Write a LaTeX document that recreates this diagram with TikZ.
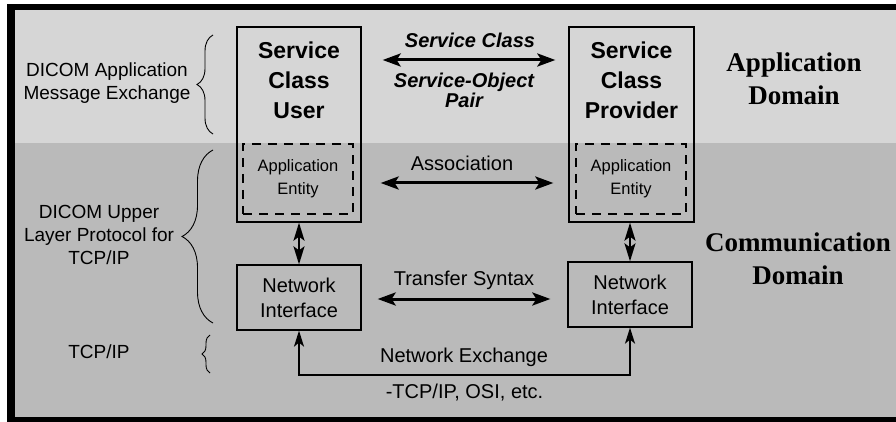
\documentclass[tikz,border=0pt]{standalone}
\usepackage{fontspec}
\setmainfont{Liberation Serif}
\setsansfont{Liberation Sans}
\usetikzlibrary{arrows.meta,decorations.pathreplacing,calc}

\definecolor{appband}{RGB}{214,214,214}
\definecolor{comband}{RGB}{186,186,186}

\tikzset{
  box/.style={draw, line width=1.3pt, inner sep=0pt},
  aebox/.style={draw, dashed, dash pattern=on 9pt off 7pt, line width=1.3pt, inner sep=0pt,
    minimum width=110pt, minimum height=70pt, align=center,
    font=\sffamily\fontsize{16.5}{23}\selectfont},
  titletext/.style={align=center, font=\sffamily\bfseries\fontsize{23}{30}\selectfont},
  nitext/.style={align=center, font=\sffamily\fontsize{20}{25}\selectfont},
  lbl/.style={align=center, font=\sffamily\fontsize{19}{23}\selectfont},
  arrlbl/.style={align=center, font=\sffamily\fontsize{20}{20}\selectfont},
  itlbl/.style={align=center, font=\sffamily\bfseries\itshape\fontsize{20}{20}\selectfont},
  domlbl/.style={align=center, font=\rmfamily\bfseries\fontsize{27}{33}\selectfont},
  biga/.style={{Stealth[length=18pt,width=13pt,inset=4pt]}-{Stealth[length=18pt,width=13pt,inset=4pt]}, line width=3pt},
  vera/.style={{Stealth[length=18pt,width=11pt,inset=4pt]}-{Stealth[length=18pt,width=11pt,inset=4pt]}, line width=2pt},
  neta/.style={{Stealth[length=16pt,width=10pt,inset=4pt]}-{Stealth[length=16pt,width=10pt,inset=4pt]}, line width=1.5pt},
  bracepath/.style={decorate, line width=0.9pt},
}

\begin{document}
\begin{tikzpicture}[x=1pt, y=-1pt]
\useasboundingbox (0,0) rectangle (896,422);
% page background, frame and domain bands
\fill[white] (0,0) rectangle (896,422);
\fill[black] (7,4) rectangle (896,422);
\fill[appband] (15,10) rectangle (896,143);
\fill[comband] (15,143) rectangle (896,417);

% service class user / provider
\node[box, minimum width=124pt, minimum height=195pt] (scu) at (299,124.5) {};
\node[titletext] (scut) at (299,80) {Service\\Class\\User};
\node[aebox] (ae1) at (298,179) {Application\\Entity};

\node[box, minimum width=125pt, minimum height=195pt] (scp) at (631.5,124.5) {};
\node[titletext] (scpt) at (631.5,80) {Service\\Class\\Provider};
\node[aebox] (ae2) at (631,179) {Application\\Entity};

% network interfaces
\node[box, nitext, minimum width=124pt, minimum height=65pt] (ni1) at (299,297.5) {Network\\Interface};
\node[box, nitext, minimum width=124pt, minimum height=65pt] (ni2) at (630,294.5) {Network\\Interface};

% vertical links between service class and network interface
\draw[vera] (scu.south) -- (ni1.north);
\draw[vera] (ni2.north |- scp.south) -- (ni2.north);

% horizontal exchanges
\draw[biga, shorten <=21pt, shorten >=13pt] (scu.east |- 0,60) -- (scp.west |- 0,60);
\node[itlbl] (sc) at (470,40) {Service Class};
\node[itlbl] (sop) at (464,90) {Service-Object\\Pair};

\draw[biga, shorten <=19pt, shorten >=15pt] (scu.east |- 0,183) -- (scp.west |- 0,183);
\node[arrlbl] (assoc) at (462,163) {Association};

\draw[biga, shorten <=16pt, shorten >=17pt] (ni1.east |- 0,299) -- (ni2.west |- 0,299);
\node[arrlbl] (ts) at (464,280) {Transfer Syntax};

\draw[neta] (ni1.south) -- (ni1.south |- 0,375) -- (ni2.south |- 0,375) -- (ni2.south);
\node[arrlbl] (nx) at (464,357) {Network Exchange};
\node[arrlbl] (tcp) at (464.5,393) {-TCP/IP, OSI, etc.};

% protocol layers on the left
\draw[bracepath, decoration={brace, amplitude=16pt}] (213,134) -- (213,35);
\node[lbl] (dam) at (107,83.5) {DICOM Application\\Message Exchange};
\draw[bracepath, decoration={brace, amplitude=31pt}] (213,323) -- (213,150);
\node[lbl] (dul) at (99,235) {DICOM Upper\\Layer Protocol for\\TCP/IP};
\draw[bracepath, decoration={brace, amplitude=8pt}] (210,373) -- (210,335);
\node[lbl] (tcpl) at (99,352) {TCP/IP};

% domains
\node[domlbl] (appd) at (794,78.5) {Application\\Domain};
\node[domlbl] (comd) at (798,259) {Communication\\Domain};
\end{tikzpicture}
\end{document}
